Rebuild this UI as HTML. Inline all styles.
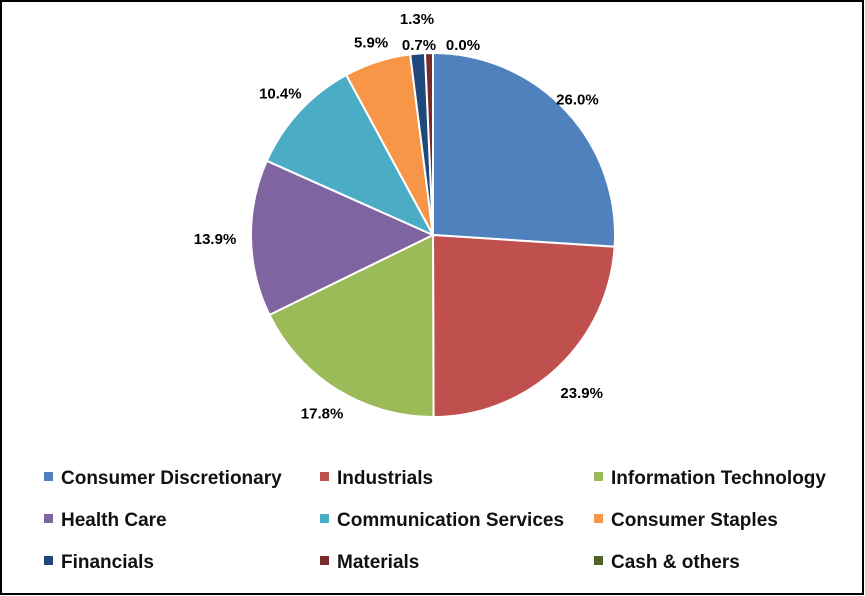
<!DOCTYPE html>
<html><head><meta charset="utf-8"><style>
html,body{margin:0;padding:0;background:#fff}
svg{display:block}
</style></head><body>
<svg id="chart" width="865" height="596" xmlns="http://www.w3.org/2000/svg" font-family="'Liberation Sans', sans-serif">
<rect x="1" y="1" width="862" height="593" fill="#fff" stroke="#000" stroke-width="2"/>
<g id="pie"></g>
<g id="labels"></g>
<g id="legend"></g>
</svg>
<script>
const categories = ["Consumer Discretionary","Industrials","Information Technology","Health Care","Communication Services","Consumer Staples","Financials","Materials","Cash & others"];
const values = [26.0, 23.9, 17.8, 13.9, 10.4, 5.9, 1.3, 0.7, 0.0];
const colors = ["#4F81BD","#C0504D","#9BBB59","#8064A2","#4BACC6","#F79646","#1F497D","#772C2A","#4F6228"];

const NS = "http://www.w3.org/2000/svg";
const cx = 433, cy = 235, r = 182;
const total = values.reduce((a,b)=>a+b,0);
const pie = document.getElementById('pie');
const labels = document.getElementById('labels');
const legend = document.getElementById('legend');
function pt(a, rad){ return [cx + rad*Math.sin(a), cy - rad*Math.cos(a)]; }
let acc = 0;
const extra = [16, 35, 28, 36, 26, 20, 40, 10, 10];
values.forEach((v,i)=>{
  const a0 = acc/total*2*Math.PI;
  acc += v;
  const a1 = acc/total*2*Math.PI;
  if (v > 0) {
    const [x0,y0] = pt(a0,r), [x1,y1] = pt(a1,r);
    const large = (a1-a0) > Math.PI ? 1 : 0;
    const p = document.createElementNS(NS,'path');
    p.setAttribute('d',`M${cx},${cy} L${x0},${y0} A${r},${r} 0 ${large} 1 ${x1},${y1} Z`);
    p.setAttribute('fill',colors[i]);
    p.setAttribute('stroke','#fff');
    p.setAttribute('stroke-width','2');
    
    
    pie.appendChild(p);
  }
  const am = (a0+a1)/2;
  let [lx,ly] = pt(am, r + extra[i]);
  if (i === 6) { lx = 417; ly = 19; }
  if (i === 7) { lx = 419; ly = 45; }
  if (i === 8) { lx = 463; ly = 45; }
  const t = document.createElementNS(NS,'text');
  t.setAttribute('x', lx); t.setAttribute('y', ly + 5);
  t.setAttribute('text-anchor','middle');
  t.setAttribute('font-size','15');
  t.setAttribute('font-weight','bold');
  t.setAttribute('fill','#000');
  t.textContent = v.toFixed(1) + '%';
  
  
  labels.appendChild(t);
});
const colX = [44, 320, 594], rowY = [477, 519, 561];
categories.forEach((c,i)=>{
  const x = colX[i%3], y = rowY[Math.floor(i/3)];
  const g = document.createElementNS(NS,'g');
  
  
  const s = document.createElementNS(NS,'rect');
  s.setAttribute('x', x); s.setAttribute('y', y-5); s.setAttribute('width', 9); s.setAttribute('height', 9);
  s.setAttribute('fill', colors[i]);
  const t = document.createElementNS(NS,'text');
  t.setAttribute('x', x+17); t.setAttribute('y', y+7);
  t.setAttribute('font-size','19'); t.setAttribute('font-weight','bold'); t.setAttribute('fill','#111');
  t.textContent = c;
  g.appendChild(s); g.appendChild(t);
  legend.appendChild(g);
});
</script>
</body></html>
